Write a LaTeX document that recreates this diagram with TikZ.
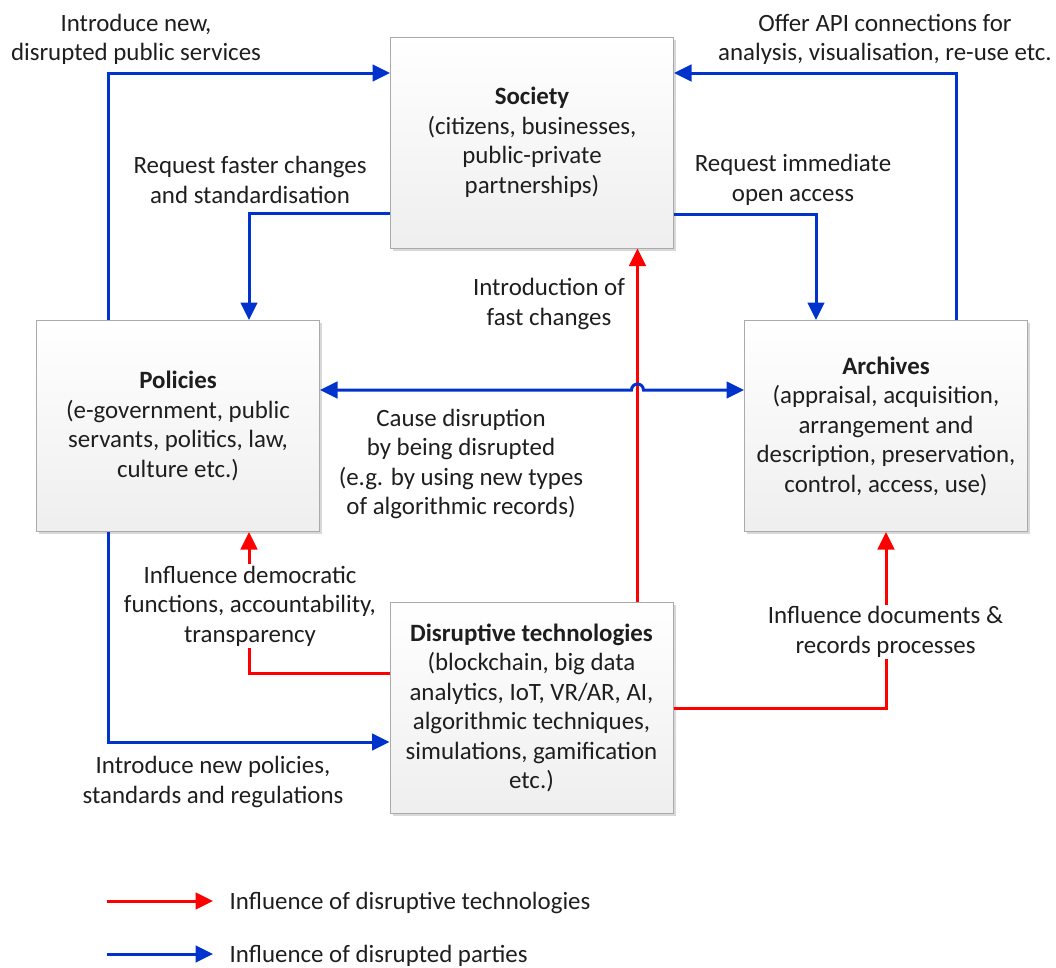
\documentclass[tikz,border=0pt]{standalone}
\usepackage{fontspec}
\setmainfont{Carlito}
\usetikzlibrary{arrows.meta,shadows}
\definecolor{flowblue}{RGB}{0,51,204}
\definecolor{flowred}{RGB}{255,0,0}
\definecolor{inktext}{RGB}{30,30,30}
\definecolor{boxline}{RGB}{170,170,170}
\begin{document}
\begin{tikzpicture}[x=1pt,y=1pt,
  every node/.style={text=inktext, font=\fontsize{24.9}{29.5}\selectfont},
  actor/.style={rectangle, draw=boxline, line width=1pt, top color=white, bottom color=gray!13,
    minimum width=283pt, minimum height=211pt, align=center, inner sep=0pt,
    drop shadow={shadow xshift=2.5pt, shadow yshift=-2.5pt, fill=black!30, opacity=0.5}},
  note/.style={align=center, inner sep=1.5pt, yshift=-2pt},
  masked/.style={note, fill=white},
  headtip/.style={Triangle[length=17.5pt,width=16.5pt]},
  tip/.style={-{Triangle[length=17.5pt,width=16.5pt]}},
  bluearrow/.style={tip, draw=flowblue, line width=3pt},
  redarrow/.style={tip, draw=flowred, line width=3pt}]
\useasboundingbox (0,0) rectangle (1056,-967);

% the four parties
\node[actor] (soc) at (532,-142.5) {{\bfseries Society}\\(citizens, businesses,\\public-private\\partnerships)};
\node[actor] (pol) at (178,-426) {{\bfseries Policies}\\(e-government, public\\servants, politics, law,\\culture etc.)};
\node[actor] (arch) at (886,-426) {{\bfseries Archives}\\(appraisal, acquisition,\\arrangement and\\description, preservation,\\control, access, use)};
\node[actor] (dis) at (531.5,-708) {{\bfseries Disruptive technologies}\\(blockchain, big data\\analytics, IoT, VR/AR, AI,\\algorithmic techniques,\\simulations, gamification\\etc.)};

% helper points
\coordinate (redx) at ([xshift=106pt]dis.north);
\coordinate (bluey) at ([yshift=36pt]pol.east);
\coordinate (jmp) at (redx |- bluey);

% influence of disrupted parties
\draw[bluearrow] ([xshift=-70pt]pol.north) |- ([yshift=69.5pt]soc.west);
\draw[bluearrow] ([xshift=70pt]arch.north) |- ([yshift=69.5pt]soc.east);
\draw[bluearrow] ([yshift=-70.5pt]soc.west) -| ([xshift=71pt]pol.north);
\draw[bluearrow] ([yshift=-71.5pt]soc.east) -| ([xshift=-70pt]arch.north);
\draw[bluearrow] ([xshift=-70pt]pol.south) |- ([yshift=-34pt]dis.west);

% influence of disruptive technologies
\draw[redarrow] (redx) -- (redx |- soc.south);
\draw[redarrow] ([yshift=35pt]dis.west) -| ([xshift=71pt]pol.south);
\draw[redarrow] (dis.east) -| (arch.south);

% two-way link hopping over the red line
\draw[flowblue, line width=3pt, {Triangle[length=17.5pt,width=16.5pt]}-{Triangle[length=17.5pt,width=16.5pt]}]
  (bluey) -- ([xshift=-6pt]jmp) arc[start angle=180, end angle=0, radius=6pt] -- (bluey -| arch.west);

% labels
\node[note] (l1) at (136,-37.5) {Introduce new,\\disrupted public services};
\node[note] (l2) at (885,-37.5) {Offer API connections for\\analysis, visualisation, re-use etc.};
\node[note] (l3) at (250,-178) {Request faster changes\\and standardisation};
\node[note] (l4) at (793,-178) {Request immediate\\open access};
\node[note] (l5) at (549,-302) {Introduction of\\fast changes};
\node[note] (l6) at (461,-462) {Cause disruption\\by being disrupted\\(e.g. by using new types\\of algorithmic records)};
\node[masked] (l7) at (250,-604) {Influence democratic\\functions, accountability,\\transparency};
\node[masked] (l8) at (885.5,-630) {Influence documents \&\\records processes};
\node[note] (l9) at (213,-780) {Introduce new policies,\\standards and regulations};

% legend
\coordinate (ra) at (107,-901);
\coordinate (rb) at (213,-901);
\coordinate (ba) at (107,-954);
\coordinate (bb) at (213,-954);
\draw[redarrow] (ra) -- (rb);
\draw[bluearrow] (ba) -- (bb);
\node[note, anchor=west] (k1) at (228,-901) {Influence of disruptive technologies};
\node[note, anchor=west] (k2) at (228,-954) {Influence of disrupted parties};
\end{tikzpicture}
\end{document}
